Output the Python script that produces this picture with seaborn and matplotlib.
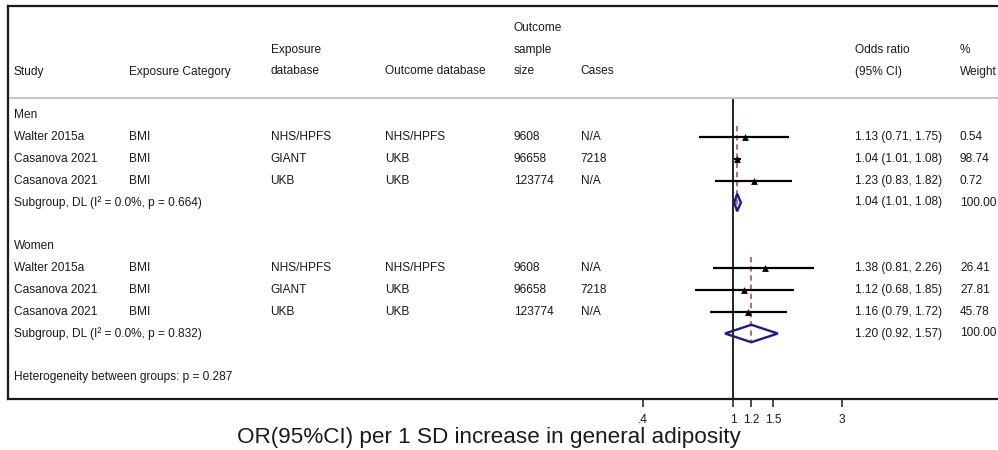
import numpy as np
import pandas as pd
import matplotlib
matplotlib.use("Agg")
import matplotlib.pyplot as plt
import matplotlib.transforms as mtransforms
from matplotlib.ticker import FixedLocator, FixedFormatter, NullLocator
import seaborn as sns

# ---- data ----
groups = ["Men", "Women"]
study = ["Walter 2015a", "Casanova 2021", "Casanova 2021",
         "Walter 2015a", "Casanova 2021", "Casanova 2021"]
category = ["BMI", "BMI", "BMI", "BMI", "BMI", "BMI"]
exposure_db = ["NHS/HPFS", "GIANT", "UKB", "NHS/HPFS", "GIANT", "UKB"]
outcome_db = ["NHS/HPFS", "UKB", "UKB", "NHS/HPFS", "UKB", "UKB"]
sample_size = ["9608", "96658", "123774", "9608", "96658", "123774"]
cases = ["N/A", "7218", "N/A", "N/A", "7218", "N/A"]
odds = [1.13, 1.04, 1.23, 1.38, 1.12, 1.16]
lower = [0.71, 1.01, 0.83, 0.81, 0.68, 0.79]
upper = [1.75, 1.08, 1.82, 2.26, 1.85, 1.72]
weight = [0.54, 98.74, 0.72, 26.41, 27.81, 45.78]
group_of = ["Men", "Men", "Men", "Women", "Women", "Women"]

sub_odds = [1.04, 1.20]
sub_lower = [1.01, 0.92]
sub_upper = [1.08, 1.57]
sub_i2 = ["0.0%", "0.0%"]
sub_p = ["0.664", "0.832"]
het_p = "0.287"

tick_values = [0.4, 1, 1.2, 1.5, 3]
tick_labels = [".4", "1", "1.2", "1.5", "3"]
xlabel = "OR(95%CI) per 1 SD increase in general adiposity"

# ---- layout ----
W, H = 998, 450
LEFT_PX, RIGHT_PX, TOP_PX, BOT_PX = 7.5, 998, 6, 399
X1_PX, PX_PER_LN = 733.3, 98.7      # pixel of OR=1, pixels per ln unit
col_px = [14, 129, 270.5, 385, 514, 580.5, 855, 960]
FS = 8.6
INK = "#1a1a1a"

sns.set_theme(style="white")
plt.rcParams["font.family"] = ["Liberation Sans", "DejaVu Sans"]

fig = plt.figure(figsize=(W / 100, H / 100), dpi=100)
ax = fig.add_axes([LEFT_PX / W, 1 - BOT_PX / H, (RIGHT_PX - LEFT_PX) / W, (BOT_PX - TOP_PX) / H])

# row positions (one unit per text line, header above 0)
rows = []
r = 1
for g in groups:
    n = group_of.count(g)
    rows.extend(range(r, r + n))
    r += n + 3
sub_rows = [4, 10]
group_rows = [0, 6]
het_row = 12

df = pd.DataFrame({"study": study, "odds": odds, "lower": lower, "upper": upper,
                   "row": rows, "group": group_of})

ax.set_xscale("log")
ax.set_xlim(np.exp((LEFT_PX - X1_PX) / PX_PER_LN), np.exp((RIGHT_PX - X1_PX) / PX_PER_LN))
ax.set_ylim(13, -5)

# confidence intervals and point estimates
ax.hlines(df["row"], df["lower"], df["upper"], color="black", lw=1.6, zorder=3)
sns.scatterplot(data=df, x="odds", y="row", marker="^", color="black", s=24,
                edgecolor="black", linewidth=0, ax=ax, zorder=4, legend=False)

# subgroup pooled lines and diamonds
for g, (est, lo, hi) in enumerate(zip(sub_odds, sub_lower, sub_upper)):
    first = group_rows[g] + 1
    ax.vlines(est, first - 0.5, sub_rows[g] + 0.4, color="#a8404e", lw=1.1,
              linestyles=(0, (3.5, 2.5)), zorder=2)
    yy = sub_rows[g]
    ax.fill([lo, est, hi, est, lo], [yy, yy - 0.4, yy, yy + 0.4, yy],
            facecolor="none", edgecolor="#1c1c82", lw=1.7, zorder=5)

# null line and header separator
ax.vlines(1, -0.78, 13, color="black", lw=1.2, zorder=2)
ax.axhline(-0.78, color="#c8c8c8", lw=1.5)

# table text
trans = mtransforms.blended_transform_factory(fig.transFigure, ax.transData)


def put(col, row, s):
    ax.text(col_px[col] / W, row, s, transform=trans, fontsize=FS, color=INK,
            ha="left", va="center")


put(0, -2, "Study")
put(1, -2, "Exposure Category")
put(2, -3, "Exposure")
put(2, -2, "database")
put(3, -2, "Outcome database")
put(4, -4, "Outcome")
put(4, -3, "sample")
put(4, -2, "size")
put(5, -2, "Cases")
put(6, -3, "Odds ratio")
put(6, -2, "(95% CI)")
put(7, -3, "%")
put(7, -2, "Weight")

for g, name in enumerate(groups):
    put(0, group_rows[g], name)
    put(0, sub_rows[g], f"Subgroup, DL (I\u00b2 = {sub_i2[g]}, p = {sub_p[g]})")
    put(6, sub_rows[g], f"{sub_odds[g]:.2f} ({sub_lower[g]:.2f}, {sub_upper[g]:.2f})")
    put(7, sub_rows[g], "100.00")

for i in range(len(study)):
    rr = rows[i]
    put(0, rr, study[i])
    put(1, rr, category[i])
    put(2, rr, exposure_db[i])
    put(3, rr, outcome_db[i])
    put(4, rr, sample_size[i])
    put(5, rr, cases[i])
    put(6, rr, f"{odds[i]:.2f} ({lower[i]:.2f}, {upper[i]:.2f})")
    put(7, rr, f"{weight[i]:.2f}")

put(0, het_row, f"Heterogeneity between groups: p = {het_p}")

# axis styling
for side in ["top", "bottom", "left"]:
    ax.spines[side].set_visible(True)
    ax.spines[side].set_color(INK)
    ax.spines[side].set_linewidth(1.6)
ax.spines["right"].set_visible(False)
ax.yaxis.set_visible(False)
ax.xaxis.set_major_locator(FixedLocator(tick_values))
ax.xaxis.set_major_formatter(FixedFormatter(tick_labels))
ax.xaxis.set_minor_locator(NullLocator())
ax.tick_params(axis="x", bottom=True, direction="out", length=6, width=1.1,
               color=INK, labelsize=FS, labelcolor=INK, pad=5)
ax.set_xlabel("")
fig.text(488.5 / W, 1 - 438 / H, xlabel, ha="center", va="center",
         fontsize=16.2, color=INK)

fig.savefig("out.png", dpi=100)
